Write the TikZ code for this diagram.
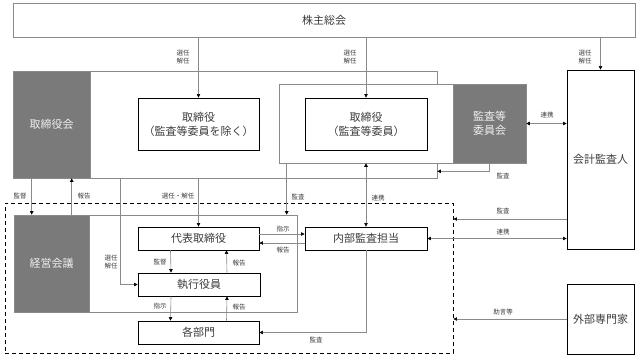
\documentclass[tikz,border=0pt]{standalone}
\usepackage{fontspec}
\setmainfont{Noto Sans CJK JP}
\usetikzlibrary{arrows.meta,calc}
\definecolor{oscurogris}{HTML}{7A7A7A}
\definecolor{linea}{HTML}{8A8A8A}
\definecolor{texto}{HTML}{3C3C3C}

\tikzset{
  caja/.style={draw=black, line width=0.9pt, fill=white, text=texto,
    font=\fontsize{11}{14}\selectfont, align=center, inner sep=0pt},
  marco/.style={draw=linea, line width=0.6pt, fill=white, text=texto,
    font=\fontsize{11}{14}\selectfont, inner sep=0pt},
  oscuro/.style={draw=linea, line width=0.6pt, fill=oscurogris, text=white!88!oscurogris,
    font=\fontsize{11}{14}\selectfont, align=center, inner sep=0pt},
  flecha/.style={draw=linea, line width=0.6pt, -{Triangle[length=3.5pt,width=3.5pt,color=black]}},
  flechas/.style={draw=linea, line width=0.6pt,
    {Triangle[length=3.5pt,width=3.5pt,color=black]}-{Triangle[length=3.5pt,width=3.5pt,color=black]}},
  etiq/.style={font=\fontsize{6.5}{7.5}\selectfont, text=texto, align=center, inner sep=0.5pt},
}

\begin{document}
\begin{tikzpicture}[x=1pt, y=-1pt]
  \useasboundingbox (0,0) rectangle (639,357);

  % accionistas
  \node[marco, minimum width=622pt, minimum height=34pt] (kabu) at (324,20) {株主総会};

  % consejo
  \node[marco, minimum width=424pt, minimum height=107pt] (trb) at (225,124.5) {};
  \node[oscuro, minimum width=77pt, minimum height=107pt] (trbk) at (51.5,124.5) {取締役会};
  \node[marco, minimum width=247pt, minimum height=79pt] (kaig) at (402.5,123.5) {};
  \node[oscuro, minimum width=73pt, minimum height=79pt] (kansa) at (489.5,123.5) {監査等\\委員会};
  \node[caja, minimum width=121pt, minimum height=52pt] (tor1) at (198.5,124) {取締役\\（監査等委員を除く）};
  \node[caja, minimum width=122pt, minimum height=52pt] (tor2) at (366,124) {取締役\\（監査等委員）};

  % externos
  \node[caja, minimum width=67pt, minimum height=179pt] (kaikei) at (600.5,159.5) {会計監査人};
  \node[caja, minimum width=67pt, minimum height=70pt] (gaibu) at (600.5,319) {外部専門家};

  % ejecucion
  \node[draw=black, dashed, dash pattern=on 4pt off 3pt, line width=0.9pt,
        minimum width=448pt, minimum height=150pt, inner sep=0pt] (grp) at (229,278) {};
  \node[marco, minimum width=283pt, minimum height=97pt] (keif) at (155.5,263.5) {};
  \node[oscuro, minimum width=75pt, minimum height=97pt] (keik) at (51.5,263.5) {経営会議};
  \node[caja, minimum width=121pt, minimum height=23pt] (dai) at (198.5,238.5) {代表取締役};
  \node[caja, minimum width=122pt, minimum height=23pt] (shik) at (199,284.5) {執行役員};
  \node[caja, minimum width=121pt, minimum height=23pt] (bum) at (198.5,332.5) {各部門};
  \node[caja, minimum width=122pt, minimum height=23pt] (naib) at (366,238.5) {内部監査担当};

  % flechas desde la junta
  \draw[flecha] (kabu.south -| tor1.north) -- (tor1.north);
  \draw[flecha] (kabu.south -| tor2.north) -- (tor2.north);
  \draw[flecha] (kabu.south -| kaikei.north) -- (kaikei.north);
  \node[etiq] (e1) at (183,57) {選任\\解任};
  \node[etiq] (e2) at (350,57) {選任\\解任};
  \node[etiq] (e3) at (585,57) {選任\\解任};

  \draw[flechas] (kansa.east) -- (kansa.east -| kaikei.west);
  \node[etiq] (e4) at (547,115) {連携};
  \draw[flecha] (kansa.south) |- ($(trb.south east)+(0,-7)$);
  \node[etiq] (e5) at (503,176) {監査};

  % consejo hacia abajo
  \draw[flecha] ($(trb.south west)+(19,0)$) -- ($(trb.south west |- keif.north)+(19,0)$);
  \node[etiq] (e6) at (20,196) {監督};
  \draw[flecha] ($(trb.south west |- keif.north)+(59,0)$) -- ($(trb.south west)+(59,0)$);
  \node[etiq] (e7) at (84,196) {報告};
  \draw[flecha] (trb.south -| dai.north) -- (dai.north);
  \node[etiq] (e8) at (178,196) {選任・解任};
  \draw[flecha] ($(trb.south west)+(108,0)$) |- (shik.west);
  \node[etiq] (e9) at (111,262) {選任\\解任};
  \draw[flecha] ($(kaig.south west)+(8,0)$) -- ($(kaig.south west |- keif.north)+(8,0)$);
  \node[etiq] (e10) at (298,197) {監査};
  \draw[flechas] (kaig.south -| naib.north) -- (naib.north);
  \node[etiq] (e11) at (378,198) {連携};

  % linea ejecutiva
  \draw[flecha] ($(dai.east)+(0,-4.5)$) -- ($(naib.west)+(0,-4.5)$);
  \node[etiq] (e12) at (283,229) {指示};
  \draw[flecha] ($(naib.west)+(0,4.5)$) -- ($(dai.east)+(0,4.5)$);
  \node[etiq] (e13) at (283,250) {報告};
  \draw[flecha] ($(dai.south)+(-28,0)$) -- ($(shik.north)+(-28,0)$);
  \node[etiq] (e14) at (160,262) {監督};
  \draw[flecha] ($(shik.north)+(28,0)$) -- ($(dai.south)+(28,0)$);
  \node[etiq] (e15) at (239,263) {報告};
  \draw[flecha] ($(shik.south)+(-28,0)$) -- ($(bum.north)+(-28,0)$);
  \node[etiq] (e16) at (160,306) {指示};
  \draw[flecha] ($(bum.north)+(28,0)$) -- ($(shik.south)+(28,0)$);
  \node[etiq] (e17) at (239,307) {報告};
  \draw[flecha] (naib.south) |- (bum.east);
  \node[etiq] (e18) at (316,340) {監査};

  % auditor y expertos
  \draw[flecha] (kaikei.west |- 0,219) -- (grp.east |- 0,219);
  \node[etiq] (e19) at (503,211) {監査};
  \draw[flechas] (naib.east) -- (naib.east -| kaikei.west);
  \node[etiq] (e20) at (503,232) {連携};
  \draw[flecha] (gaibu.west) -- (gaibu.west -| grp.east);
  \node[etiq] (e21) at (503,312) {助言等};
\end{tikzpicture}
\end{document}
